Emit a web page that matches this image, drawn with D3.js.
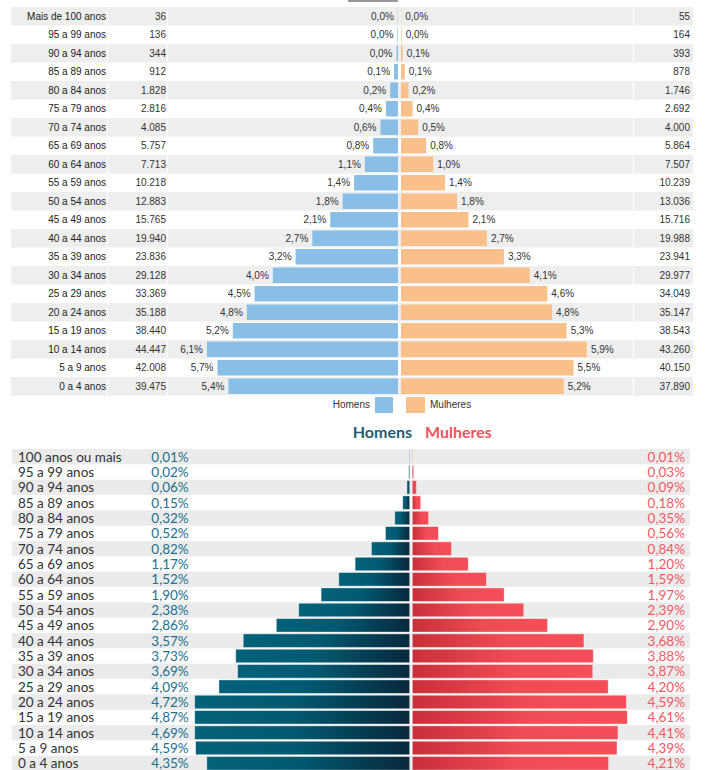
<!DOCTYPE html>
<html>
<head>
<meta charset="utf-8">
<script src="https://cdn.jsdelivr.net/npm/d3@7"></script>
<style>
  body { margin: 0; background: #fff; }
</style>
</head>
<body>
<div id="chart"></div>
<script>
// --- dados: pirâmide do topo (contagens)
const faixasTopo = ["Mais de 100 anos", "95 a 99 anos", "90 a 94 anos", "85 a 89 anos", "80 a 84 anos",
  "75 a 79 anos", "70 a 74 anos", "65 a 69 anos", "60 a 64 anos", "55 a 59 anos", "50 a 54 anos",
  "45 a 49 anos", "40 a 44 anos", "35 a 39 anos", "30 a 34 anos", "25 a 29 anos", "20 a 24 anos",
  "15 a 19 anos", "10 a 14 anos", "5 a 9 anos", "0 a 4 anos"];
const homensTopo = [36, 136, 344, 912, 1828, 2816, 4085, 5757, 7713, 10218, 12883,
  15765, 19940, 23836, 29128, 33369, 35188, 38440, 44447, 42008, 39475];
const mulheresTopo = [55, 164, 393, 878, 1746, 2692, 4000, 5864, 7507, 10239, 13036,
  15716, 19988, 23941, 29977, 34049, 35147, 38543, 43260, 40150, 37890];

// --- dados: pirâmide de baixo (percentuais)
const faixasBaixo = ["100 anos ou mais", "95 a 99 anos", "90 a 94 anos", "85 a 89 anos", "80 a 84 anos",
  "75 a 79 anos", "70 a 74 anos", "65 a 69 anos", "60 a 64 anos", "55 a 59 anos", "50 a 54 anos",
  "45 a 49 anos", "40 a 44 anos", "35 a 39 anos", "30 a 34 anos", "25 a 29 anos", "20 a 24 anos",
  "15 a 19 anos", "10 a 14 anos", "5 a 9 anos", "0 a 4 anos"];
const homensPct = [0.01, 0.02, 0.06, 0.15, 0.32, 0.52, 0.82, 1.17, 1.52, 1.90, 2.38,
  2.86, 3.57, 3.73, 3.69, 4.09, 4.72, 4.87, 4.69, 4.59, 4.35];
const mulheresPct = [0.01, 0.03, 0.09, 0.18, 0.35, 0.56, 0.84, 1.20, 1.59, 1.97, 2.39,
  2.90, 3.68, 3.88, 3.87, 4.20, 4.59, 4.61, 4.41, 4.39, 4.21];

const width = 705;
const height = 770;

const br = d3.formatLocale({decimal: ",", thousands: ".", grouping: [3], currency: ["R$", ""]});
const fmtInt = br.format(",d");
const fmt1 = br.format(".1f");
const fmt2 = br.format(".2f");

const svg = d3.select("#chart")
  .append("svg")
  .attr("width", width)
  .attr("height", height);

// ===================== pirâmide do topo =====================
let total = d3.sum(homensTopo) + d3.sum(mulheresTopo);
let centro = 399.5;
let yTopo = d3.scaleBand().domain(faixasTopo).range([7, 395.5]);
let xTopo = d3.scaleLinear().domain([0, d3.max(homensTopo)]).range([0, 191]);
let fonteTopo = "'Liberation Sans', Arial, sans-serif";

// aba cinza no topo
svg.append("rect").attr("x", 348).attr("y", 0).attr("width", 50).attr("height", 2).attr("fill", "#999");

const topo = svg.append("g");

// faixas (células da tabela)
let cells = [[11, 96], [108, 59], [168, 465], [634, 59]];
faixasTopo.forEach(function(f, i){
  if (i % 2 == 0) {
    cells.forEach(function(c){
      topo.append("rect")
        .attr("x", c[0]).attr("y", yTopo(f))
        .attr("width", c[1]).attr("height", yTopo.bandwidth())
        .attr("fill", "#eeeeee");
    });
  }
});

topo.append("g")
  .selectAll("text")
  .data(faixasTopo)
  .join("text")
    .attr("x", 106)
    .attr("y", d => yTopo(d) + yTopo.bandwidth()/2)
    .attr("dy", "0.35em")
    .attr("text-anchor", "end")
    .attr("font-family", fonteTopo)
    .attr("font-size", 10)
    .attr("fill", "#222")
    .text(d => d);

topo.append("g")
  .selectAll("text")
  .data(homensTopo)
  .join("text")
    .attr("x", 166)
    .attr("y", (d, i) => yTopo(faixasTopo[i]) + yTopo.bandwidth()/2)
    .attr("dy", "0.35em")
    .attr("text-anchor", "end")
    .attr("font-family", fonteTopo)
    .attr("font-size", 10)
    .attr("fill", "#333")
    .text(d => fmtInt(d));

topo.append("g")
  .selectAll("text")
  .data(mulheresTopo)
  .join("text")
    .attr("x", 690)
    .attr("y", (d, i) => yTopo(faixasTopo[i]) + yTopo.bandwidth()/2)
    .attr("dy", "0.35em")
    .attr("text-anchor", "end")
    .attr("font-family", fonteTopo)
    .attr("font-size", 10)
    .attr("fill", "#333")
    .text(d => fmtInt(d));

// barras
let barH = 15.5;
topo.append("g")
  .selectAll("rect")
  .data(homensTopo)
  .join("rect")
    .attr("x", d => centro - 1.5 - xTopo(d))
    .attr("y", (d, i) => yTopo(faixasTopo[i]) + (yTopo.bandwidth() - barH)/2)
    .attr("width", d => xTopo(d))
    .attr("height", barH)
    .attr("fill", "#89bfe6");

topo.append("g")
  .selectAll("rect")
  .data(mulheresTopo)
  .join("rect")
    .attr("x", centro + 1.5)
    .attr("y", (d, i) => yTopo(faixasTopo[i]) + (yTopo.bandwidth() - barH)/2)
    .attr("width", d => xTopo(d))
    .attr("height", barH)
    .attr("fill", "#f9c08a");

topo.append("g")
  .selectAll("text")
  .data(homensTopo)
  .join("text")
    .attr("x", d => centro - 1.5 - xTopo(d) - 4)
    .attr("y", (d, i) => yTopo(faixasTopo[i]) + yTopo.bandwidth()/2)
    .attr("dy", "0.35em")
    .attr("text-anchor", "end")
    .attr("font-family", fonteTopo)
    .attr("font-size", 10)
    .attr("fill", "#333")
    .text(d => fmt1(d / total * 100) + "%");

topo.append("g")
  .selectAll("text")
  .data(mulheresTopo)
  .join("text")
    .attr("x", d => centro + 1.5 + xTopo(d) + 4)
    .attr("y", (d, i) => yTopo(faixasTopo[i]) + yTopo.bandwidth()/2)
    .attr("dy", "0.35em")
    .attr("text-anchor", "start")
    .attr("font-family", fonteTopo)
    .attr("font-size", 10)
    .attr("fill", "#333")
    .text(d => fmt1(d / total * 100) + "%");

// legenda
topo.append("text").attr("x", 370).attr("y", 408).attr("text-anchor", "end")
  .attr("font-family", fonteTopo).attr("font-size", 10).attr("fill", "#333").text("Homens");
topo.append("rect").attr("x", 375).attr("y", 397).attr("width", 18).attr("height", 16).attr("fill", "#89bfe6");
topo.append("rect").attr("x", 406).attr("y", 397).attr("width", 19).attr("height", 16).attr("fill", "#f9c08a");
topo.append("text").attr("x", 430).attr("y", 408)
  .attr("font-family", fonteTopo).attr("font-size", 10).attr("fill", "#333").text("Mulheres");

// ===================== pirâmide de baixo =====================
let fonteBaixo = "Lato, 'Open Sans', sans-serif";
let centroB = 411;
let yBaixo = d3.scaleBand().domain(faixasBaixo).range([449, 771]);
let xBaixo = d3.scaleLinear().domain([0, 4.61]).range([0, 215]).clamp(true);

const defs = svg.append("defs");
let gH = defs.append("linearGradient").attr("id", "grad-homens");
gH.append("stop").attr("offset", "0%").attr("stop-color", "#03617a");
gH.append("stop").attr("offset", "45%").attr("stop-color", "#015a71");
gH.append("stop").attr("offset", "100%").attr("stop-color", "#08283d");
let gM = defs.append("linearGradient").attr("id", "grad-mulheres");
gM.append("stop").attr("offset", "0%").attr("stop-color", "#c92f3a");
gM.append("stop").attr("offset", "55%").attr("stop-color", "#f04c55");
gM.append("stop").attr("offset", "100%").attr("stop-color", "#f44f58");

const baixo = svg.append("g");

baixo.append("text").attr("x", 412).attr("y", 438).attr("text-anchor", "end")
  .attr("font-family", fonteBaixo).attr("font-weight", "bold").attr("font-size", 16)
  .attr("fill", "#1f5d72").text("Homens");
baixo.append("text").attr("x", 425).attr("y", 438)
  .attr("font-family", fonteBaixo).attr("font-weight", "bold").attr("font-size", 16)
  .attr("fill", "#f0545d").text("Mulheres");

baixo.append("g")
  .selectAll("rect")
  .data(faixasBaixo.filter((d, i) => i % 2 == 0))
  .join("rect")
    .attr("x", 12)
    .attr("y", d => yBaixo(d))
    .attr("width", 678)
    .attr("height", yBaixo.bandwidth())
    .attr("fill", "#ebebeb");

baixo.append("g")
  .selectAll("text")
  .data(faixasBaixo)
  .join("text")
    .attr("x", 18)
    .attr("y", d => yBaixo(d) + yBaixo.bandwidth()/2)
    .attr("dy", "0.36em")
    .attr("font-family", fonteBaixo)
    .attr("font-size", 13.5)
    .attr("fill", "#333")
    .text(d => d);

baixo.append("g")
  .selectAll("text")
  .data(homensPct)
  .join("text")
    .attr("x", 170)
    .attr("y", (d, i) => yBaixo(faixasBaixo[i]) + yBaixo.bandwidth()/2)
    .attr("dy", "0.36em")
    .attr("text-anchor", "middle")
    .attr("font-family", fonteBaixo)
    .attr("font-size", 13.5)
    .attr("fill", "#24708a")
    .text(d => fmt2(d) + "%");

baixo.append("g")
  .selectAll("text")
  .data(mulheresPct)
  .join("text")
    .attr("x", 685)
    .attr("y", (d, i) => yBaixo(faixasBaixo[i]) + yBaixo.bandwidth()/2)
    .attr("dy", "0.36em")
    .attr("text-anchor", "end")
    .attr("font-family", fonteBaixo)
    .attr("font-size", 13.5)
    .attr("fill", "#f05a63")
    .text(d => fmt2(d) + "%");

let barHB = 13.5;
baixo.append("g")
  .selectAll("rect")
  .data(homensPct)
  .join("rect")
    .attr("x", d => centroB - 1.3 - xBaixo(d))
    .attr("y", (d, i) => yBaixo(faixasBaixo[i]) + (yBaixo.bandwidth() - barHB)/2)
    .attr("width", d => xBaixo(d))
    .attr("height", barHB)
    .attr("fill", "url(#grad-homens)")
    .attr("stroke", "#fff")
    .attr("stroke-opacity", 0.5)
    .attr("stroke-width", 0.8);

baixo.append("g")
  .selectAll("rect")
  .data(mulheresPct)
  .join("rect")
    .attr("x", centroB + 1.3)
    .attr("y", (d, i) => yBaixo(faixasBaixo[i]) + (yBaixo.bandwidth() - barHB)/2)
    .attr("width", d => xBaixo(d))
    .attr("height", barHB)
    .attr("fill", "url(#grad-mulheres)")
    .attr("stroke", "#fff")
    .attr("stroke-opacity", 0.5)
    .attr("stroke-width", 0.8);
</script>
</body>
</html>
